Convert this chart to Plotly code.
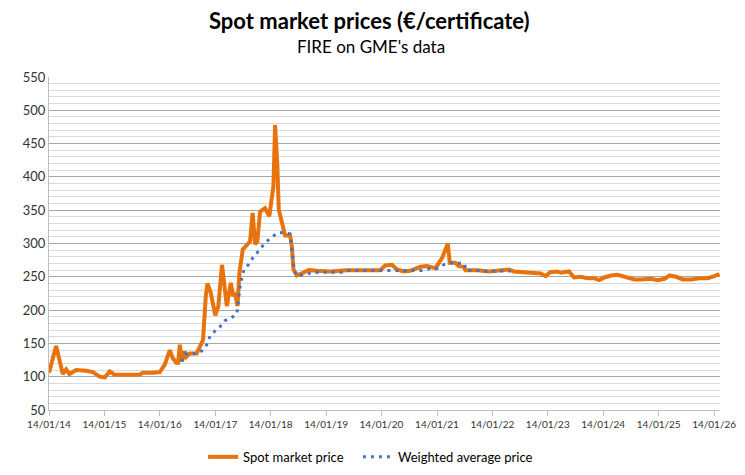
import plotly.graph_objects as go

# spot market price
spot_dates = [
    "2014-01-14", "2014-03-02", "2014-04-15", "2014-05-07", "2014-05-29", "2014-07-12",
    "2014-09-17", "2014-10-30", "2014-12-14", "2015-01-17", "2015-02-18", "2015-03-22",
    "2015-09-03", "2015-09-24", "2015-11-29", "2016-01-14", "2016-02-16", "2016-03-20",
    "2016-04-08", "2016-05-02", "2016-05-14", "2016-05-25", "2016-06-08", "2016-06-27",
    "2016-07-08", "2016-07-30", "2016-09-13", "2016-10-05", "2016-10-25", "2016-11-12",
    "2016-11-23", "2016-12-14", "2017-01-14", "2017-02-03", "2017-02-27", "2017-03-31",
    "2017-04-26", "2017-05-11", "2017-05-24", "2017-06-09", "2017-06-22", "2017-07-14",
    "2017-08-09", "2017-08-31", "2017-09-17", "2017-10-03", "2017-10-18", "2017-11-05",
    "2017-12-08", "2018-01-05", "2018-01-21", "2018-02-01", "2018-02-12", "2018-02-27",
    "2018-03-08", "2018-03-28", "2018-04-19", "2018-05-22", "2018-06-02", "2018-06-13",
    "2018-07-05", "2018-08-07", "2018-09-20", "2018-11-14", "2019-02-10", "2019-05-30",
    "2019-11-22", "2020-01-06", "2020-02-08", "2020-03-23", "2020-04-25", "2020-06-08",
    "2020-07-22", "2020-09-04", "2020-09-26", "2020-11-08", "2021-01-04", "2021-02-18",
    "2021-03-26", "2021-04-08", "2021-05-15", "2021-06-06", "2021-07-09", "2021-07-20",
    "2021-10-06", "2021-12-23", "2022-02-05", "2022-05-03", "2022-06-05", "2022-10-15",
    "2022-11-28", "2023-01-01", "2023-01-29", "2023-03-19", "2023-04-09", "2023-06-03",
    "2023-07-06", "2023-08-20", "2023-10-03", "2023-11-16", "2023-12-19", "2024-01-21",
    "2024-03-05", "2024-04-18", "2024-06-01", "2024-08-07", "2024-09-20", "2024-10-23",
    "2024-11-25", "2025-01-08", "2025-02-21", "2025-03-26", "2025-05-09", "2025-06-22",
    "2025-08-16", "2025-10-20", "2025-12-03", "2026-01-16", "2026-02-19",
]
spot_price = [
    106, 146, 104, 111, 104, 110,
    109, 107, 100, 99, 108, 103,
    103, 106, 106, 107, 118, 140,
    128, 121, 121, 148, 123, 138,
    130, 135, 135, 145, 155, 220,
    240, 227, 192, 206, 268, 206,
    241, 221, 226, 206, 256, 291,
    298, 303, 346, 299, 303, 348,
    353, 341, 368, 386, 478, 416,
    351, 331, 312, 312, 296, 261,
    252, 255, 260, 259, 258, 260,
    261, 260, 267, 268, 261, 258,
    259, 262, 265, 266, 263, 279,
    300, 271, 271, 266, 265, 260,
    260, 258, 259, 261, 258, 255,
    255, 251, 257, 258, 256, 258,
    249, 250, 248, 248, 245, 249,
    252, 253, 250, 246, 246, 247,
    247, 245, 247, 252, 250, 246,
    246, 248, 248, 251, 254,
]

# weighted average price
wavg_dates = [
    "2016-06-05", "2016-06-27", "2016-09-20", "2016-11-01", "2016-11-23", "2016-12-10",
    "2017-01-14", "2017-02-14", "2017-03-17", "2017-04-26", "2017-06-05", "2017-06-17",
    "2017-06-28", "2017-07-22", "2017-08-23", "2017-09-17", "2017-10-14", "2017-11-11",
    "2017-12-14", "2018-01-23", "2018-02-27", "2018-04-11", "2018-05-21", "2018-05-28",
    "2018-06-04", "2018-06-13", "2018-06-18", "2018-07-12", "2018-08-29", "2018-10-13",
    "2018-12-02", "2019-04-28", "2019-06-12", "2020-08-24", "2020-10-07", "2020-11-28",
    "2021-01-16", "2021-02-25", "2021-04-08", "2021-07-14", "2021-07-24", "2021-11-01",
    "2021-12-17", "2022-02-05", "2022-05-13",
]
wavg_price = [
    123, 134, 135, 141, 150, 161,
    169, 175, 184, 188, 194, 216,
    239, 261, 269, 278, 286, 294.5,
    302.5, 309.5, 316, 316, 314.5, 304,
    291, 269, 259, 251, 253.6, 256,
    257, 257, 259.6, 259.6, 259.6, 262,
    262.6, 268, 271, 270, 259.6, 259.6,
    257.6, 258.6, 258.6,
]

tick_dates = ["%d-01-14" % y for y in range(2014, 2027)]
tick_text = ["14/01/%02d" % (y % 100) for y in range(2014, 2027)]

fig = go.Figure()
fig.add_trace(go.Scatter(x=spot_dates, y=spot_price, mode="lines", name="Spot market price",
                         line=dict(color="#E8730C", width=4), legend="legend"))
fig.add_trace(go.Scatter(x=wavg_dates, y=wavg_price, mode="lines", name="Weighted average price",
                         line=dict(color="#4472C4", width=3, dash="3px,5px"), legend="legend2"))

# page has an 8px body margin, so the figure is a bit smaller than the window
leg = dict(orientation="h", xref="container", yref="container", xanchor="left",
           y=0.022, yanchor="middle", font=dict(size=13, color="#000"))
fig.update_layout(
    width=729, height=459,
    margin=dict(l=41, r=17, t=69, b=57, autoexpand=False),
    plot_bgcolor="white", paper_bgcolor="white",
    font=dict(family="Lato, Open Sans, sans-serif", color="#222"),
    legend=dict(leg, x=0.2676),
    legend2=dict(leg, x=0.480),
    showlegend=True,
)
fig.add_annotation(text="<b>Spot market prices (€/certificate)</b>", xref="paper", yref="paper",
                   x=0.478, y=1.171, xanchor="center", yanchor="middle", showarrow=False,
                   font=dict(size=22, color="#000"))
fig.add_annotation(text="FIRE on GME's data", xref="paper", yref="paper",
                   x=0.48, y=1.093, xanchor="center", yanchor="middle", showarrow=False,
                   font=dict(size=17, color="#000"))
fig.update_xaxes(
    type="date", range=["2014-01-14", "2026-02-22"], automargin=False,
    tickvals=tick_dates, ticktext=tick_text, tickfont=dict(size=10, color="#333"),
    showgrid=False, showline=True, linecolor="#BFBFBF", linewidth=1,
    ticks="outside", ticklen=5, tickcolor="#BFBFBF",
)
fig.update_yaxes(
    range=[50, 550], dtick=50, tickfont=dict(size=13, color="#333"), automargin=False,
    showgrid=True, gridcolor="#A6A6A6", gridwidth=1,
    showline=True, linecolor="#BFBFBF", zeroline=False,
    minor=dict(dtick=10, showgrid=True, gridcolor="#D9D9D9", gridwidth=1),
)

fig.write_html("out.html")
